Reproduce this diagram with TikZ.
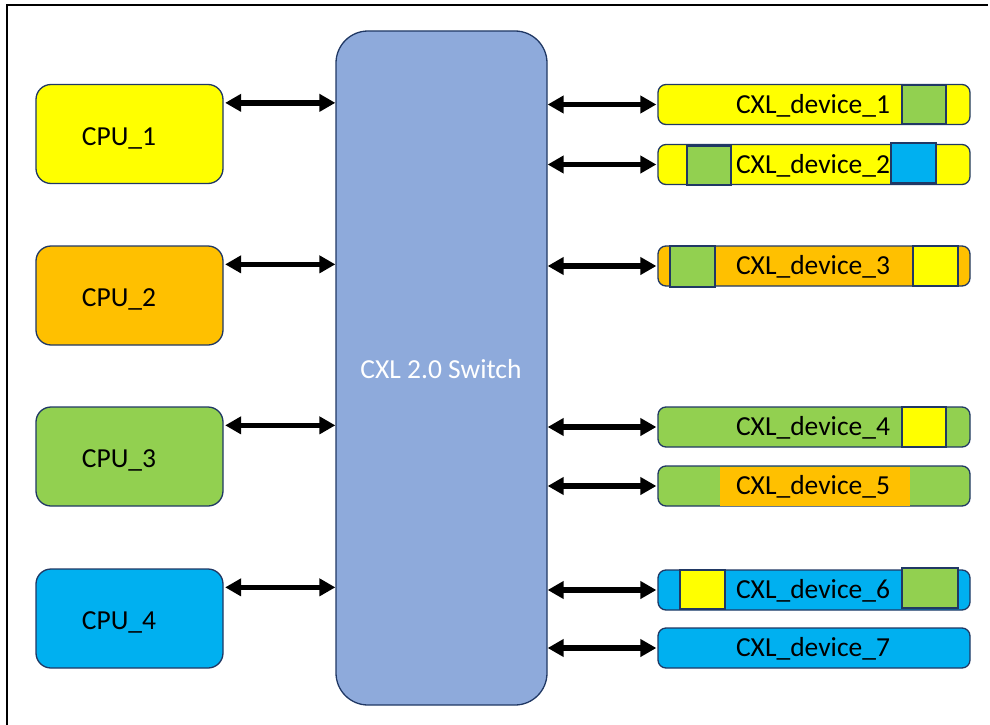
\documentclass[tikz,border=0pt]{standalone}
\usepackage{fontspec}
\setmainfont{Carlito}
\usetikzlibrary{arrows.meta}
\definecolor{cyel}{HTML}{FFFF00}
\definecolor{corg}{HTML}{FFC000}
\definecolor{cgrn}{HTML}{92D050}
\definecolor{cblu}{HTML}{00B0F0}
\definecolor{cswi}{HTML}{8EAADB}
\definecolor{cedge}{HTML}{203864}

\begin{document}
\begin{tikzpicture}[x=1pt,y=-1pt,
  box/.style={draw=cedge, line width=1.3pt, rectangle, rounded corners=#1, inner sep=0pt},
  cpubox/.style={box=15pt, minimum width=187pt, minimum height=99pt},
  devbox/.style={box=8pt, minimum width=312pt, minimum height=40pt},
  lbl/.style={font=\fontsize{27.5}{33}\selectfont, inner sep=0pt, anchor=base},
  sq/.style={draw=cedge, line width=1.3pt},
  biarrow/.style={line width=5.5pt,
    {Triangle[length=16pt,width=17pt]}-{Triangle[length=16pt,width=17pt]}}]

\useasboundingbox (0,0) rectangle (990,725);

% outer frame (top and left edges)
\draw[line width=2pt] (7,725) -- (7,5) -- (988,5);

% switch
\node[box=32pt, fill=cswi, minimum width=211pt, minimum height=674pt] (sw) at (441.5,368) {};
\node[lbl, text=white] (swt) at (441,378) {CXL 2.0 Switch};

% hosts
\foreach \i/\y/\c in {1/134/cyel, 2/295.5/corg, 3/456.5/cgrn, 4/618.5/cblu}{
  \node[cpubox, fill=\c] (cpu\i) at (129.5,\y) {};
  \node[lbl] (cpu\i t) at ([xshift=-10.5pt,yshift=-11pt]cpu\i.center) {CPU\_\i};
  \path ([yshift=-19pt]cpu\i.north east) coordinate (h\i);
  \draw[biarrow] ([xshift=1.5pt]h\i) -- (h\i -| sw.west);
}

% devices
\foreach \i/\y/\c in {1/104.5/cyel, 2/164.5/cyel, 3/266/corg, 4/427/cgrn, 5/486/cgrn, 6/590/cblu, 7/648/cblu}{
  \node[devbox, fill=\c] (dev\i) at (814,\y) {};
}

% memory regions inside the devices
\draw[sq, fill=cgrn] (902,85) rectangle (946,124);
\draw[sq, fill=cgrn] (687,146) rectangle (731,185);
\draw[sq, fill=cblu] (891,143) rectangle (936,183);
\draw[sq, fill=cgrn] (670,246) rectangle (715,287);
\draw[sq, fill=cyel] (913,246) rectangle (958,286);
\draw[sq, fill=cyel] (902,407) rectangle (946,447);
\fill[corg] (720,466.8) rectangle (910,505.5);
\draw[sq, fill=cyel] (680,570) rectangle (725,609);
\draw[sq, fill=cgrn] (902,568) rectangle (958,608);

% device labels and links
\foreach \i in {1,...,7}{
  \node[lbl] (dev\i t) at ([xshift=-1pt,yshift=-8.5pt]dev\i.center) {CXL\_device\_\i};
  \draw[biarrow] (dev\i.west -| sw.east) -- ([xshift=-1pt]dev\i.west);
}
\end{tikzpicture}
\end{document}
